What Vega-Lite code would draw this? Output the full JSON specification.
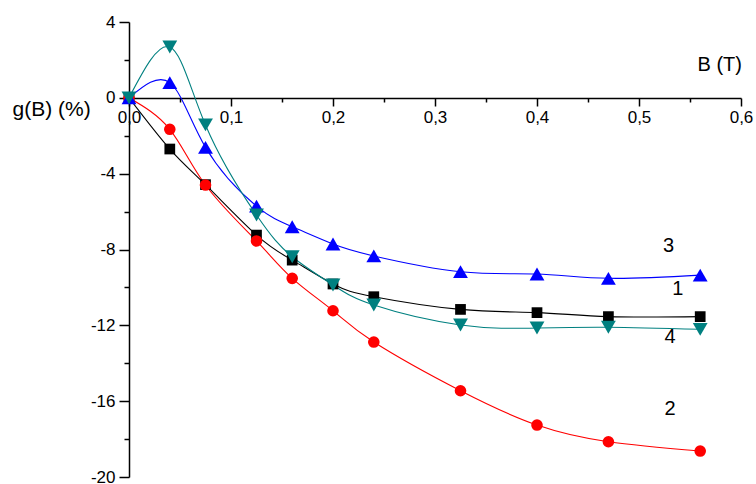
{
  "$schema": "https://vega.github.io/schema/vega-lite/v6.json",
  "width": 612,
  "height": 455,
  "autosize": "none",
  "padding": {"left": 129, "top": 22, "right": 15, "bottom": 7},
  "background": "white",
  "config": {
    "view": {"stroke": null},
    "font": "Liberation Sans"
  },
  "datasets": {
    "pts": [
      {"B": 0, "g": 0, "series": "1"},
      {"B": 0.04, "g": -2.70, "series": "1"},
      {"B": 0.075, "g": -4.58, "series": "1"},
      {"B": 0.125, "g": -7.24, "series": "1"},
      {"B": 0.16, "g": -8.56, "series": "1"},
      {"B": 0.2, "g": -9.82, "series": "1"},
      {"B": 0.24, "g": -10.49, "series": "1"},
      {"B": 0.325, "g": -11.16, "series": "1"},
      {"B": 0.4, "g": -11.33, "series": "1"},
      {"B": 0.47, "g": -11.54, "series": "1"},
      {"B": 0.56, "g": -11.54, "series": "1"},
      {"B": 0, "g": 0, "series": "2"},
      {"B": 0.04, "g": -1.66, "series": "2"},
      {"B": 0.075, "g": -4.6, "series": "2"},
      {"B": 0.125, "g": -7.55, "series": "2"},
      {"B": 0.16, "g": -9.52, "series": "2"},
      {"B": 0.2, "g": -11.23, "series": "2"},
      {"B": 0.24, "g": -12.88, "series": "2"},
      {"B": 0.325, "g": -15.45, "series": "2"},
      {"B": 0.4, "g": -17.26, "series": "2"},
      {"B": 0.47, "g": -18.14, "series": "2"},
      {"B": 0.56, "g": -18.63, "series": "2"},
      {"B": 0, "g": 0, "series": "3"},
      {"B": 0.04, "g": 0.8, "series": "3"},
      {"B": 0.075, "g": -2.61, "series": "3"},
      {"B": 0.125, "g": -5.71, "series": "3"},
      {"B": 0.16, "g": -6.80, "series": "3"},
      {"B": 0.2, "g": -7.71, "series": "3"},
      {"B": 0.24, "g": -8.34, "series": "3"},
      {"B": 0.325, "g": -9.17, "series": "3"},
      {"B": 0.4, "g": -9.29, "series": "3"},
      {"B": 0.47, "g": -9.52, "series": "3"},
      {"B": 0.56, "g": -9.35, "series": "3"},
      {"B": 0, "g": 0, "series": "4"},
      {"B": 0.04, "g": 2.68, "series": "4"},
      {"B": 0.075, "g": -1.43, "series": "4"},
      {"B": 0.125, "g": -6.18, "series": "4"},
      {"B": 0.16, "g": -8.38, "series": "4"},
      {"B": 0.2, "g": -9.87, "series": "4"},
      {"B": 0.24, "g": -10.93, "series": "4"},
      {"B": 0.325, "g": -11.98, "series": "4"},
      {"B": 0.4, "g": -12.14, "series": "4"},
      {"B": 0.47, "g": -12.1, "series": "4"},
      {"B": 0.56, "g": -12.21, "series": "4"}
    ],
    "labels": [
      {"B": 0.529, "g": -7.82, "label": "3"},
      {"B": 0.538, "g": -10.09, "label": "1"},
      {"B": 0.5305, "g": -12.63, "label": "4"},
      {"B": 0.5305, "g": -16.43, "label": "2"}
    ]
  },
  "encoding": {
    "x": {
      "field": "B",
      "type": "quantitative",
      "scale": {"domain": [0, 0.6], "nice": false, "zero": false},
      "axis": {
        "orient": "bottom",
        "offset": -379,
        "values": [0, 0.05, 0.1, 0.15, 0.2, 0.25, 0.3, 0.35, 0.4, 0.45, 0.5, 0.55, 0.6],
        "labelExpr": "round(datum.value * 20) % 2 === 0 ? replace(format(datum.value, '.1f'), '.', ',') : ''",
        "grid": false,
        "domainColor": "black",
        "domainWidth": 1.5,
        "tickColor": "black",
        "tickWidth": 1.5,
        "tickSize": {"condition": {"test": "round(datum.value * 20) % 2 === 0", "value": 8}, "value": 4},
        "labelFont": "Liberation Sans",
        "labelFontSize": 17,
        "labelColor": "black",
        "labelPadding": 3,
        "labelFlush": false,
        "labelOverlap": false,
        "title": "B (T)",
        "titleFont": "Liberation Sans",
        "titleFontSize": 20,
        "titleFontWeight": "normal",
        "titleColor": "black",
        "titleAlign": "right",
        "titleBaseline": "alphabetic",
        "titleX": 612.5,
        "titleY": -28
      }
    },
    "y": {
      "field": "g",
      "type": "quantitative",
      "scale": {"domain": [-20, 4], "nice": false, "zero": false},
      "axis": {
        "orient": "left",
        "values": [-20, -18, -16, -14, -12, -10, -8, -6, -4, -2, 0, 2, 4],
        "labelExpr": "datum.value % 4 === 0 ? '' + datum.value : ''",
        "grid": false,
        "domainColor": "black",
        "domainWidth": 1.5,
        "tickColor": "black",
        "tickWidth": 1.5,
        "tickSize": {"condition": {"test": "datum.value % 4 === 0", "value": 10}, "value": 5},
        "labelFont": "Liberation Sans",
        "labelFontSize": 17,
        "labelColor": "black",
        "labelPadding": 4,
        "labelFlush": false,
        "labelOverlap": false,
        "title": "g(B) (%)",
        "titleFont": "Liberation Sans",
        "titleFontSize": 21,
        "titleFontWeight": "normal",
        "titleColor": "black",
        "titleAngle": 0,
        "titleAlign": "left",
        "titleBaseline": "alphabetic",
        "titleX": -117,
        "titleY": 93
      }
    }
  },
  "layer": [
    {
      "data": {"name": "pts"},
      "mark": {"type": "line", "interpolate": "natural", "strokeWidth": 1.1, "clip": true},
      "encoding": {
        "detail": {"field": "series"},
        "color": {
          "field": "series",
          "type": "nominal",
          "scale": {"domain": ["1", "2", "3", "4"], "range": ["#000000", "#ff0000", "#0000ff", "#008080"]},
          "legend": null
        }
      }
    },
    {
      "data": {"name": "pts"},
      "transform": [{"filter": "datum.series === '1'"}],
      "mark": {"type": "point", "shape": "square", "size": 115, "filled": true, "opacity": 1, "strokeWidth": 0, "color": "#000000"}
    },
    {
      "data": {"name": "pts"},
      "transform": [{"filter": "datum.series === '2'"}],
      "mark": {"type": "point", "shape": "circle", "size": 135, "filled": true, "opacity": 1, "strokeWidth": 0, "color": "#ff0000"}
    },
    {
      "data": {"name": "pts"},
      "transform": [{"filter": "datum.series === '3'"}],
      "mark": {"type": "point", "shape": "triangle-up", "size": 220, "filled": true, "opacity": 1, "strokeWidth": 0, "color": "#0000ff"}
    },
    {
      "data": {"name": "pts"},
      "transform": [{"filter": "datum.series === '4'"}],
      "mark": {"type": "point", "shape": "triangle-down", "size": 220, "filled": true, "opacity": 1, "strokeWidth": 0, "color": "#008080"}
    },
    {
      "data": {"name": "labels"},
      "mark": {"type": "text", "font": "Liberation Sans", "fontSize": 20, "color": "black", "align": "center", "baseline": "middle"},
      "encoding": {
        "text": {"field": "label"}
      }
    }
  ]
}
